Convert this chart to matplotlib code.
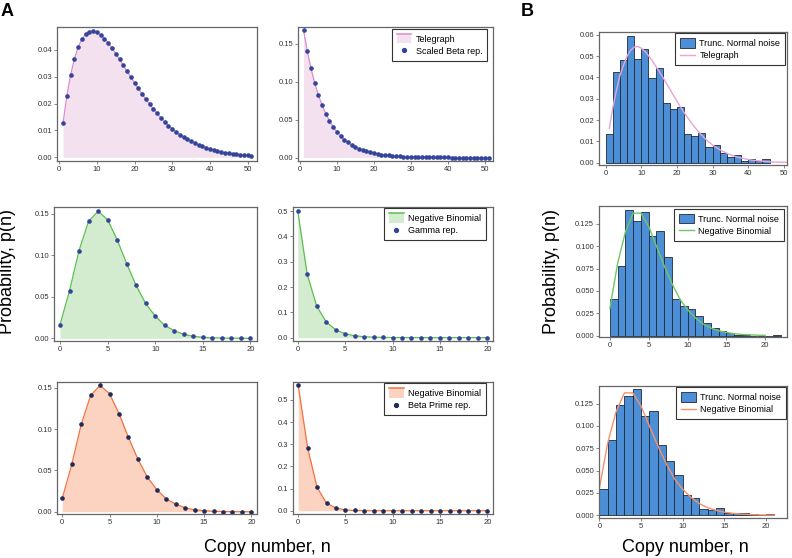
import numpy as np
import matplotlib
matplotlib.use('Agg')
import matplotlib.pyplot as plt
from matplotlib.legend_handler import HandlerBase
from matplotlib.patches import Rectangle
from matplotlib.lines import Line2D
from matplotlib.ticker import MultipleLocator

plt.rcParams['font.family'] = ['Liberation Sans', 'DejaVu Sans']

# ---- column A: exact distributions (lines) and representations (dots)
telegraph_a_n = list(range(1, 52))
telegraph_a1 = [0.0127, 0.0227, 0.0306, 0.0365, 0.0410, 0.0440, 0.0458, 0.0468, 0.0470, 0.0465,
                0.0456, 0.0442, 0.0426, 0.0406, 0.0386, 0.0365, 0.0342, 0.0320, 0.0298, 0.0277,
                0.0256, 0.0235, 0.0216, 0.0198, 0.0179, 0.0163, 0.0147, 0.0132, 0.0118, 0.0106,
                0.0094, 0.0084, 0.0076, 0.0067, 0.0060, 0.0052, 0.0046, 0.0041, 0.0036, 0.0031,
                0.0027, 0.0024, 0.0020, 0.0017, 0.0015, 0.0013, 0.0011, 0.0009, 0.0008, 0.0007, 0.0006]
telegraph_a2 = [0.1680, 0.1406, 0.1177, 0.0985, 0.0824, 0.0690, 0.0578, 0.0483, 0.0405, 0.0339,
                0.0283, 0.0237, 0.0199, 0.0166, 0.0139, 0.0116, 0.0097, 0.0082, 0.0068, 0.0057,
                0.0048, 0.0040, 0.0034, 0.0028, 0.0024, 0.0020, 0.0016, 0.0014, 0.0011, 0.0010,
                0.0008, 0.0007, 0.0006, 0.0005, 0.0004, 0.0003, 0.0003, 0.0002, 0.0002, 0.0002,
                0.0001, 0.0001, 0.0001, 0.0001, 0.0001, 0.0, 0.0, 0.0, 0.0, 0.0, 0.0]

negbin_a_n = list(range(0, 21))
negbin_mode = [0.0164, 0.0572, 0.1056, 0.1408, 0.1528, 0.1428, 0.1188, 0.0900, 0.0636, 0.0420,
               0.0268, 0.0156, 0.0092, 0.0048, 0.0024, 0.0012, 0.0006, 0.0003, 0.0001, 0.0001, 0.0]
negbin_gamma = [0.5, 0.25, 0.125, 0.0625, 0.0313, 0.0156, 0.0078, 0.0039, 0.0020, 0.0010,
                0.0005, 0.0002, 0.0001, 0.0001, 0.0, 0.0, 0.0, 0.0, 0.0, 0.0, 0.0]
negbin_betaprime = [0.566, 0.283, 0.105, 0.034, 0.012, 0.0035, 0.0010, 0.0003, 0.0001, 0.0,
                    0.0, 0.0, 0.0, 0.0, 0.0, 0.0, 0.0, 0.0, 0.0, 0.0, 0.0]

# ---- column B: noisy histograms and exact curves
hist_b1_edges = list(range(0, 48, 2))
hist_b1 = [0.0133, 0.0423, 0.0480, 0.0594, 0.0486, 0.0531, 0.0395, 0.0442, 0.0278, 0.0250,
           0.0260, 0.0133, 0.0125, 0.0140, 0.0075, 0.0081, 0.0045, 0.0025, 0.0034, 0.0010,
           0.0016, 0.0008, 0.0017]
telegraph_b_n = list(range(1, 52))
telegraph_b = [0.0161, 0.0260, 0.0340, 0.0410, 0.0458, 0.0500, 0.0528, 0.0542, 0.0545, 0.0537,
               0.0522, 0.0502, 0.0479, 0.0454, 0.0428, 0.0401, 0.0373, 0.0345, 0.0316, 0.0288,
               0.0261, 0.0235, 0.0211, 0.0188, 0.0166, 0.0146, 0.0128, 0.0111, 0.0096, 0.0083,
               0.0071, 0.0061, 0.0052, 0.0044, 0.0037, 0.0031, 0.0026, 0.0022, 0.0018, 0.0015,
               0.0012, 0.0010, 0.0008, 0.0007, 0.0005, 0.0004, 0.0003, 0.0003, 0.0002, 0.0002, 0.0001]

hist_b2_edges = list(range(0, 23))
hist_b2 = [0.0408, 0.0780, 0.1410, 0.1287, 0.1380, 0.1110, 0.1175, 0.0880, 0.0410, 0.0337,
           0.0296, 0.0220, 0.0138, 0.0090, 0.0056, 0.0026, 0.0010, 0.0007, 0.0, 0.0, 0.0, 0.0011]
hist_b3_edges = list(range(0, 22))
hist_b3 = [0.0299, 0.0847, 0.1239, 0.1340, 0.1410, 0.1116, 0.1172, 0.0791, 0.0612, 0.0448,
           0.0231, 0.0198, 0.0071, 0.0056, 0.0078, 0.0026, 0.0030, 0.0030, 0.0010, 0.0007, 0.0011]
negbin_b_n = list(range(0, 22))
negbin_b = [0.0306, 0.0810, 0.1160, 0.1370, 0.1370, 0.1220, 0.1000, 0.0780, 0.0580, 0.0410,
            0.0290, 0.0200, 0.0130, 0.0085, 0.0055, 0.0035, 0.0022, 0.0014, 0.0009, 0.0005,
            0.0003, 0.0002]

PINK, PINK_FILL, PINK_B = '#de8cc6', '#f4e1f0', '#e8a3d8'
GREEN, GREEN_FILL, GREEN_B = '#5cbf4f', '#d3ebcf', '#6fc766'
ORANGE, ORANGE_FILL, ORANGE_B = '#f2733f', '#fcd3c0', '#f5916d'
DOT_BLUE, DOT_NAVY = '#33459a', '#1f2b58'
HIST_FACE, HIST_EDGE = '#4d8fd6', '#1e2a36'


class FillTopLine(HandlerBase):
    """legend key: shaded block with the curve colour drawn along its top edge"""
    def __init__(self, line_color, **kw):
        super().__init__(**kw)
        self.line_color = line_color

    def create_artists(self, legend, orig_handle, xdescent, ydescent, width, height, fontsize, trans):
        fc = orig_handle.get_facecolor()[0]
        rect = Rectangle((-xdescent, -ydescent), width, height, facecolor=fc,
                         edgecolor='none', transform=trans)
        top = -ydescent + height
        line = Line2D([-xdescent, -xdescent + width], [top, top], color=self.line_color,
                      lw=1.1, transform=trans)
        return [rect, line]


def style_axes(ax, xlim, ylim, xstep, ystep):
    ax.set_xlim(*xlim)
    ax.set_ylim(*ylim)
    ax.xaxis.set_major_locator(MultipleLocator(xstep))
    ax.yaxis.set_major_locator(MultipleLocator(ystep))
    ax.tick_params(direction='out', length=2, width=0.5, pad=1.5, labelsize=5.5,
                   color='#555555', labelcolor='#333333')
    for sp in ax.spines.values():
        sp.set_color('#666666')
        sp.set_linewidth(0.9)


legend_kw = dict(fontsize=6.5, frameon=True, fancybox=False, framealpha=1,
                 edgecolor='#333333', borderaxespad=0, handlelength=1.6,
                 handleheight=1.2, handletextpad=0.5, labelspacing=0.3,
                 borderpad=0.55)


def panel_a(rect, n, y, line_c, fill_c, dot_c, xlim, ylim, xstep, ystep, legend=None):
    ax = fig.add_axes(rect)
    poly = ax.fill_between(n, y, 0, color=fill_c, lw=0)
    ax.plot(n, y, color=line_c, lw=0.9)
    ax.plot(n, y, ls='none', marker='o', ms=2.3, color=dot_c)
    style_axes(ax, xlim, ylim, xstep, ystep)
    if legend is not None:
        labels, anchor = legend
        dot = Line2D([], [], ls='none', marker='o', ms=2.8, color=dot_c)
        leg = ax.legend([poly, dot], labels, loc='upper right', bbox_to_anchor=anchor,
                        handler_map={poly: FillTopLine(line_c)}, **legend_kw)
        leg.get_frame().set_linewidth(0.8)
    return ax


def panel_b(rect, edges, heights, n, curve, line_c, curve_label, xlim, ylim, xstep, ystep, anchor):
    ax = fig.add_axes(rect)
    widths = np.diff(edges)
    bars = ax.bar(edges[:-1], heights, width=widths, align='edge', color=HIST_FACE,
                  edgecolor=HIST_EDGE, lw=0.6)
    line, = ax.plot(n, curve, color=line_c, lw=1.0)
    style_axes(ax, xlim, ylim, xstep, ystep)
    leg = ax.legend([bars, line], ['Trunc. Normal noise', curve_label], loc='upper right',
                    bbox_to_anchor=anchor, **legend_kw)
    leg.get_frame().set_linewidth(0.8)
    return ax


fig = plt.figure(figsize=(7.92, 5.58), dpi=100)
W, H = 792.0, 558.0


def box(x0, x1, y0, y1):
    return [x0 / W, 1 - y1 / H, (x1 - x0) / W, (y1 - y0) / H]


# column A, top row (telegraph)
panel_a(box(57, 257, 27, 161), telegraph_a_n, telegraph_a1, PINK, PINK_FILL, DOT_BLUE,
        (-0.6, 52.5), (-0.0014, 0.0485), 10, 0.01)
panel_a(box(298, 493, 27, 161), telegraph_a_n, telegraph_a2, PINK, PINK_FILL, DOT_BLUE,
        (-0.5, 52.2), (-0.0045, 0.172), 10, 0.05,
        legend=(['Telegraph', 'Scaled Beta rep.'], (0.97, 0.985)))
# middle row (negative binomial, gamma)
panel_a(box(54, 257, 207, 341), negbin_a_n, negbin_mode, GREEN, GREEN_FILL, DOT_BLUE,
        (-0.63, 20.7), (-0.0032, 0.158), 5, 0.05)
panel_a(box(293, 493, 207, 341), negbin_a_n, negbin_gamma, GREEN, GREEN_FILL, DOT_BLUE,
        (-0.5, 20.6), (-0.013, 0.516), 5, 0.1,
        legend=(['Negative Binomial', 'Gamma rep.'], (0.965, 0.99)))
# bottom row (negative binomial, beta prime)
panel_a(box(57, 257, 382, 514), negbin_a_n, negbin_mode, ORANGE, ORANGE_FILL, DOT_NAVY,
        (-0.56, 20.6), (-0.0027, 0.157), 5, 0.05)
panel_a(box(293, 493, 382, 514), negbin_a_n, negbin_betaprime, ORANGE, ORANGE_FILL, DOT_NAVY,
        (-0.55, 20.6), (-0.0148, 0.581), 5, 0.1,
        legend=(['Negative Binomial', 'Beta Prime rep.'], (0.965, 0.99)))

# column B
panel_b(box(599, 787, 32, 165), hist_b1_edges, hist_b1, telegraph_b_n, telegraph_b, PINK_B,
        'Telegraph', (-1.9, 50.9), (-0.0011, 0.0613), 10, 0.01, (0.99, 0.99))
panel_b(box(599, 787, 206, 337), hist_b2_edges, hist_b2, negbin_b_n[:21], negbin_b[:21], GREEN_B,
        'Negative Binomial', (-1.4, 22.8), (-0.0015, 0.145), 5, 0.025, (0.985, 0.977))
panel_b(box(599, 787, 386, 518), hist_b3_edges, hist_b3, negbin_b_n, negbin_b, ORANGE_B,
        'Negative Binomial', (-0.05, 22.5), (-0.003, 0.1447), 5, 0.025, (0.995, 0.99))

# panel letters and shared axis labels
fig.text(1 / W, 1 - 3 / H, 'A', fontsize=13, fontweight='bold', ha='left', va='top')
fig.text(521 / W, 1 - 3 / H, 'B', fontsize=13, fontweight='bold', ha='left', va='top')
fig.text(8 / W, 1 - 271 / H, 'Probability, p(n)', fontsize=13, rotation=90, ha='center', va='center')
fig.text(551 / W, 1 - 272 / H, 'Probability, p(n)', fontsize=13, rotation=90, ha='center', va='center')
fig.text(267 / W, 1 - 547 / H, 'Copy number, n', fontsize=13, ha='center', va='center')
fig.text(685 / W, 1 - 547 / H, 'Copy number, n', fontsize=13, ha='center', va='center')

fig.savefig('out.png', dpi=100)
